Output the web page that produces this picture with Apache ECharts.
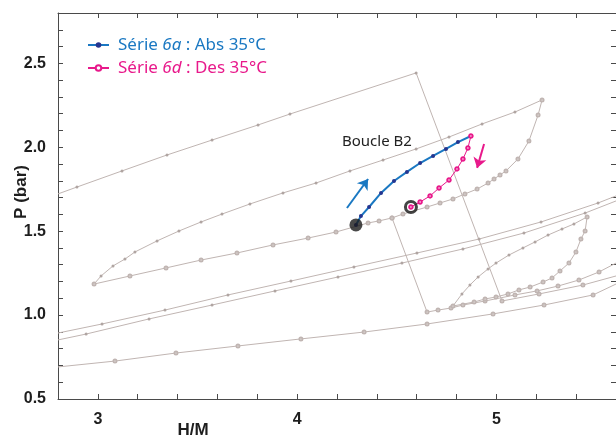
<!DOCTYPE html>
<html><head><meta charset="utf-8">
<script src="https://cdn.jsdelivr.net/npm/echarts@6/dist/echarts.min.js"></script>
<style>html,body{margin:0;padding:0;background:#fff}#c{width:616px;height:436px}</style>
</head><body><div id="c"></div>
<script>
// ---- data (H/M, P bar) ----
const xTickLabels = [3, 4, 5];
const yTickLabels = [0.5, 1.0, 1.5, 2.0, 2.5];

const serie6a = [[4.295,1.537],[4.320,1.590],[4.361,1.644],[4.421,1.728],[4.486,1.799],[4.551,1.853],[4.617,1.906],[4.682,1.948],[4.747,1.990],[4.807,2.031],[4.872,2.067]];
const serie6d = [[4.872,2.067],[4.857,1.996],[4.832,1.930],[4.802,1.871],[4.762,1.805],[4.712,1.757],[4.667,1.710],[4.617,1.674],[4.571,1.644]];
const startPoint = [[4.295,1.537]];
const endPoint = [[4.571,1.644]];
const arrowAbs = [[4.250,1.638],[4.356,1.811]];
const arrowDes = [[4.938,2.020],[4.903,1.877]];

const topLine = [[2.800,1.722],[2.895,1.763],[3.121,1.859],[3.347,1.954],[3.573,2.043],[3.804,2.133],[3.964,2.198],[4.597,2.443]];
const topDrop = [[4.597,2.443],[5.028,1.084]];
const topTail = [[5.028,1.084],[5.214,1.126],[5.434,1.179],[5.600,1.233]];

const bigLoopDes = [[5.229,2.282],[5.093,2.210],[4.928,2.139],[4.762,2.061],[4.597,1.990],[4.431,1.924],[4.265,1.859],[4.095,1.787],[3.929,1.728],[3.763,1.662],[3.623,1.602],[3.518,1.555],[3.407,1.501],[3.297,1.442],[3.186,1.376],[3.136,1.334],[3.076,1.293],[3.016,1.233],[2.981,1.185]];
const bigLoopAbsLow = [[2.981,1.185],[3.161,1.233],[3.342,1.281],[3.518,1.328],[3.698,1.370],[3.879,1.418],[4.055,1.459],[4.195,1.495],[4.356,1.549],[4.411,1.561],[4.476,1.579]];
const bigLoopAbsHigh = [[4.476,1.579],[4.531,1.602],[4.652,1.644],[4.717,1.668],[4.782,1.692],[4.842,1.722],[4.903,1.751],[4.958,1.787],[4.988,1.811],[5.018,1.835],[5.048,1.859],[5.108,1.930],[5.163,2.037],[5.209,2.192],[5.229,2.282]];
const midDrop = [[4.476,1.579],[4.652,1.018]];
const midTail = [[4.652,1.018],[4.707,1.030],[4.772,1.042],[4.832,1.060],[4.943,1.084],[5.093,1.120],[5.204,1.144],[5.309,1.173],[5.414,1.209],[5.515,1.257],[5.600,1.310]];

const pairUpper = [[2.800,0.893],[3.021,0.947],[3.337,1.030],[3.653,1.120],[3.969,1.203],[4.285,1.287],[4.601,1.370],[4.913,1.453],[5.224,1.555],[5.510,1.668],[5.600,1.710]];
const pairLower = [[2.800,0.852],[2.941,0.887],[3.257,0.977],[3.573,1.060],[3.889,1.144],[4.205,1.227],[4.526,1.310],[4.832,1.394],[5.138,1.489],[5.445,1.608],[5.600,1.680]];
const bottomLine = [[2.800,0.691],[3.086,0.726],[3.392,0.774],[3.703,0.816],[4.019,0.858],[4.336,0.899],[4.652,0.947],[4.983,1.007],[5.239,1.060],[5.485,1.120],[5.600,1.185]];

const smallLoopDes = [[5.455,1.585],[5.389,1.543],[5.329,1.513],[5.259,1.477],[5.194,1.436],[5.133,1.400],[5.063,1.358],[4.998,1.310],[4.958,1.275],[4.908,1.227],[4.867,1.179],[4.827,1.126],[4.782,1.054]];
const smallLoopAbs = [[4.782,1.054],[4.888,1.078],[4.943,1.096],[4.998,1.108],[5.058,1.126],[5.113,1.150],[5.169,1.167],[5.234,1.197],[5.279,1.221],[5.319,1.263],[5.364,1.310],[5.399,1.376],[5.424,1.453],[5.445,1.501],[5.455,1.585]];

// ---- styles ----
const X_MIN = 2.8, X_MAX = 5.6;
const GRAY = '#c0b5b2';
const GRAY_DOT = '#b0a5a2';
const BLUE = '#1a78c2';
const NAVY = '#26358f';
const PINK = '#e8198b';
const NAME_A = 'Série 6a : Abs 35°C';
const NAME_D = 'Série 6d : Des 35°C';

function grayLine(name, data, mode) {
  // points lying on the frame edge are clipping points of the curve: no marker there
  const items = data.map(p => (p[0] <= X_MIN + 1e-9 || p[0] >= X_MAX - 1e-9) ? { value: p, symbol: 'none', symbolSize: 0 } : p);
  const s = {
    name: name, type: 'line', data: items, z: 2, silent: true,
    lineStyle: { color: GRAY, width: 1 },
    emphasis: { disabled: true }
  };
  if (mode === 'none') { s.showSymbol = false; s.symbol = 'none'; }
  else if (mode === 'filled') {
    s.symbol = 'circle'; s.symbolSize = 3; s.showAllSymbol = true;
    s.itemStyle = { color: GRAY_DOT, borderWidth: 0 };
  } else {
    s.symbol = 'emptyCircle'; s.symbolSize = 3; s.showAllSymbol = true;
    s.itemStyle = { color: GRAY, borderColor: GRAY, borderWidth: 0.8 };
  }
  return s;
}

const chart = echarts.init(document.getElementById('c'), null, { renderer: 'canvas' });

const isMultiple = (v, step) => Math.abs(v / step - Math.round(v / step)) < 1e-6;
const axisCommon = {
  axisLine: { show: true, onZero: false, lineStyle: { color: '#4a4a4a', width: 1 } },
  axisTick: { show: true, inside: true, length: 5, lineStyle: { color: '#4a4a4a', width: 1 } },
  splitLine: { show: false }
};

chart.setOption({
  animation: false,
  backgroundColor: '#fff',
  grid: { left: 58, right: -1, top: 13, bottom: 37 },
  legend: {
    left: 87, top: 35, orient: 'vertical', padding: 0,
    itemWidth: 21, itemHeight: 7, itemGap: 3,
    data: [
      { name: NAME_A, textStyle: { color: BLUE } },
      { name: NAME_D, textStyle: { color: PINK } }
    ],
    textStyle: {
      fontFamily: 'Noto Sans', fontSize: 17, lineHeight: 20, padding: [0, 0, 0, 4],
      rich: {
        ib: { color: BLUE, fontStyle: 'italic', fontFamily: 'Noto Sans', fontSize: 17, lineHeight: 20 },
        ip: { color: PINK, fontStyle: 'italic', fontFamily: 'Noto Sans', fontSize: 17, lineHeight: 20 }
      }
    },
    formatter: function (n) {
      return n === NAME_A ? 'Série {ib|6a} : Abs 35°C' : 'Série {ip|6d} : Des 35°C';
    }
  },
  xAxis: [
    Object.assign({}, axisCommon, {
      type: 'value', position: 'bottom', min: X_MIN, max: X_MAX, interval: 0.2,
      axisLabel: {
        margin: 13, color: '#1e1e1e', fontFamily: 'Liberation Sans', fontWeight: 'bold', fontSize: 16,
        showMinLabel: false, showMaxLabel: false,
        formatter: v => { const r = Math.round(v); return (isMultiple(v, 1) && xTickLabels.includes(r)) ? String(r) : ''; }
      }
    }),
    Object.assign({}, axisCommon, {
      type: 'value', position: 'top', min: X_MIN, max: X_MAX, interval: 0.2,
      axisLabel: { show: false }
    })
  ],
  yAxis: [
    Object.assign({}, axisCommon, {
      type: 'value', position: 'left', min: 0.5, max: 2.8, interval: 0.1,
      axisLabel: {
        margin: 12, color: '#1e1e1e', fontFamily: 'Liberation Sans', fontWeight: 'bold', fontSize: 16,
        formatter: v => { const r = Math.round(v * 2) / 2; return (isMultiple(v, 0.5) && yTickLabels.includes(r)) ? r.toFixed(1) : ''; }
      }
    }),
    Object.assign({}, axisCommon, {
      type: 'value', position: 'right', min: 0.5, max: 2.8, interval: 0.1,
      axisLabel: { show: false }
    })
  ],
  graphic: [
    { type: 'text', left: 342, top: 134, style: { text: 'Boucle B2', fill: '#222', font: '15px "Noto Sans"' } },
    { type: 'text', x: 193, y: 430, style: { text: 'H/M', fill: '#1e1e1e', font: 'bold 17px "Liberation Sans"', align: 'center', verticalAlign: 'middle' } },
    { type: 'text', x: 21, y: 192, rotation: Math.PI / 2, style: { text: 'P (bar)', fill: '#1e1e1e', font: 'bold 17px "Liberation Sans"', align: 'center', verticalAlign: 'middle' } }
  ],
  series: [
    grayLine('g1', topLine, 'filled'),
    grayLine('g2', topDrop, 'none'),
    grayLine('g3', topTail, 'open'),
    grayLine('g4', bigLoopDes, 'filled'),
    grayLine('g5', bigLoopAbsLow, 'open'),
    grayLine('g6', bigLoopAbsHigh, 'open'),
    grayLine('g7', midDrop, 'none'),
    grayLine('g8', midTail, 'open'),
    grayLine('g9', pairUpper, 'filled'),
    grayLine('g10', pairLower, 'filled'),
    grayLine('g11', bottomLine, 'open'),
    grayLine('g12', smallLoopDes, 'filled'),
    grayLine('g13', smallLoopAbs, 'open'),
    {
      name: NAME_A, type: 'line', data: serie6a, z: 5, silent: true,
      symbol: 'circle', symbolSize: 4, showAllSymbol: true,
      lineStyle: { color: BLUE, width: 2 },
      itemStyle: { color: NAVY, borderWidth: 0 },
      markLine: {
        silent: true, symbol: ['none', 'arrow'], symbolSize: 10,
        itemStyle: { color: BLUE },
        lineStyle: { color: BLUE, width: 2, type: 'solid' }, label: { show: false },
        emphasis: { disabled: true },
        data: [[{ coord: arrowAbs[0] }, { coord: arrowAbs[1] }]]
      }
    },
    {
      name: NAME_D, type: 'line', data: serie6d, z: 5, silent: true,
      symbol: 'emptyCircle', symbolSize: 3.5, showAllSymbol: true,
      lineStyle: { color: PINK, width: 1 },
      itemStyle: { color: PINK, borderColor: PINK, borderWidth: 1 },
      markLine: {
        silent: true, symbol: ['none', 'arrow'], symbolSize: 10,
        itemStyle: { color: PINK },
        lineStyle: { color: PINK, width: 2, type: 'solid' }, label: { show: false },
        emphasis: { disabled: true },
        data: [[{ coord: arrowDes[0] }, { coord: arrowDes[1] }]]
      }
    },
    {
      name: 'start', type: 'scatter', data: startPoint, z: 6, silent: true,
      symbol: 'circle', symbolSize: 13, itemStyle: { color: '#1a1a1a' }
    },
    {
      name: 'end', type: 'scatter', data: endPoint, z: 6, silent: true,
      symbol: 'circle', symbolSize: 11, itemStyle: { color: 'rgba(0,0,0,0)', borderColor: '#151515', borderWidth: 3 }
    }
  ]
});
</script>
</body></html>
